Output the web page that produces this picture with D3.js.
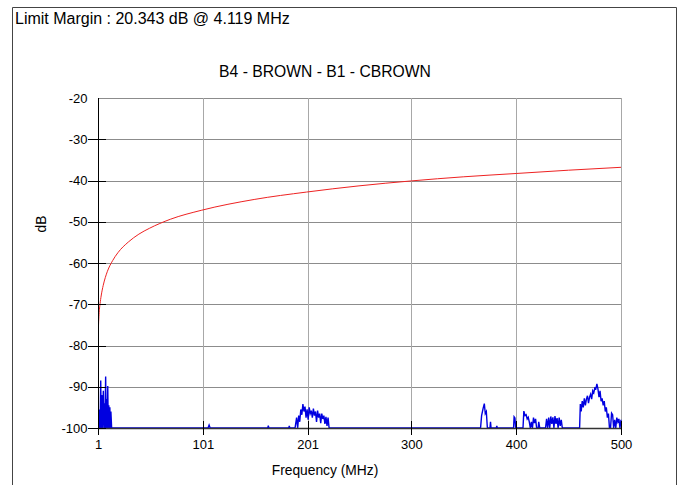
<html>
<head>
    <meta charset="utf-8">
    <title>Limit margin plot</title>
    <script src="https://d3js.org/d3.v7.min.js"></script>
    <style>
        body { margin: 0; background-color: white; }
        svg text { font-family: "Liberation Sans", Arial, sans-serif; fill: #000; }
    </style>
</head>
<body>
<div id="chart"></div>
<script>
    // chart texts
    var marginText = "Limit Margin : 20.343 dB @ 4.119 MHz";
    var chartTitle = "B4 - BROWN - B1 - CBROWN";
    var xLabel = "Frequency (MHz)";
    var yLabel = "dB";
    var xTicks = [1, 101, 201, 300, 400, 500];
    var yTicks = [-20, -30, -40, -50, -60, -70, -80, -90, -100];

    // limit line (red)
    var limitFreq = [1, 1.5, 2, 3, 4, 6, 8, 10, 15, 20, 30, 40, 50, 70, 100, 150, 200, 250, 300, 350, 400, 450, 500];
    var limitDb = [-79.5, -75, -72.5, -69.8, -68, -65.4, -63.5, -62, -59.4, -57.5, -54.9, -53, -51.6, -49.4, -47.2, -44.6, -42.8, -41.3, -40.1, -39.1, -38.3, -37.5, -36.8];

    // measured trace (blue)
    var traceFreq = [1, 2, 2.5, 3, 3.6, 4.1, 4.6, 5.1, 5.6, 6.1, 6.6, 7, 7.6, 8.3, 8.8, 9.3, 9.8, 10.3, 10.8, 11.3, 11.8, 12.3, 12.8, 13.3, 14,
        106, 107, 108, 163, 163.5, 164, 183, 183.5, 184,
        189, 190.5, 191.5, 192.5, 193.5, 194.5, 195.5, 196.5, 197.5, 198.5, 199.5, 200.5, 201.5, 202.5, 203.5, 204.5, 205.5, 206.5, 207.5, 208.5, 209.5, 210.5, 211.5, 212.5, 213.5, 214.5, 215.5, 216.5, 217.5, 218.5, 219.5, 220.5, 221.5,
        366, 367, 368.5, 369.6, 370.5, 371.5, 372.5, 375, 375.5, 376, 381, 381.5, 382,
        397.5, 398, 398.8, 399.5, 406.5, 407.3, 408.5, 409.5, 410.5, 411.5, 412.5, 413.5, 414.5, 415.5, 416.5, 417.5, 418.5, 419.5, 421, 421.5, 422.5,
        428, 429, 430, 431, 432, 433, 434, 435, 436, 437, 438, 439, 440, 441, 442, 443, 444,
        460.5, 461.2, 462, 463, 464, 465, 466, 467, 468, 469, 470, 471, 472, 473, 474, 475, 476, 477, 478, 479, 480, 481, 482, 483, 484, 485, 486, 487, 488, 489, 490, 491, 492, 493, 494, 495, 496, 497, 498, 499, 500];
    var traceDb = [-100, -100, -95.5, -100, -88.5, -100, -92, -100, -96, -91, -100, -94, -100, -87.5, -100, -93, -100, -89.8, -100, -94.5, -100, -95, -100, -96, -100,
        -100, -99.3, -100, -100, -99.4, -100, -100, -99.5, -100,
        -100, -97.5, -100, -97, -98.5, -95.5, -96.8, -94.2, -96, -94.8, -97.5, -95.5, -98, -95, -96.5, -95.8, -97.5, -95.3, -97, -96, -98.5, -95.8, -97.5, -96.5, -98.8, -96.5, -97.8, -97, -99, -97.3, -99.5, -97.5, -100,
        -100, -97, -95.2, -94.1, -96.5, -96, -100, -100, -98.5, -100, -100, -99.5, -100,
        -100, -97.3, -97.6, -100, -100, -95.9, -97, -96.8, -97.8, -97.4, -98.5, -100, -98.5, -100, -97.5, -98.8, -97.8, -100, -100, -98.5, -100,
        -100, -97.8, -100, -97.5, -100, -97.2, -99, -97.4, -100, -97.1, -99, -97.6, -100, -97.5, -99.5, -98, -100,
        -100, -94.2, -96, -93.5, -95, -92.8, -94.5, -93, -92.2, -94, -92.5, -91.8, -93, -91, -91.5, -90.3, -90.5, -89.3, -90.5, -92.5, -91, -93.5, -92.8, -94.5, -93.5, -96, -95, -97.5, -96.5, -100, -100, -96.4, -96.8, -100, -98, -100, -97.5, -98.5, -97.8, -100, -98];

    var width = 683, height = 485;
    var plot = {left: 98, right: 621, top: 98, bottom: 428};

    var svg = d3.select("#chart").append("svg")
                .attr("width", width)
                .attr("height", height);

    var x = d3.scaleLinear().domain([1, 500]).range([plot.left, plot.right]);
    var y = d3.scaleLinear().domain([-100, -20]).range([plot.bottom, plot.top]);

    // outer frame (open at the bottom)
    svg.append("path")
       .attr("d", "M12.5," + height + "V7.5H676.5V" + height)
       .attr("fill", "none")
       .attr("stroke", "#444")
       .attr("stroke-width", 1);

    svg.append("text")
       .attr("x", 15).attr("y", 24)
       .attr("font-size", 16)
       .text(marginText);

    svg.append("text")
       .attr("x", 325).attr("y", 77)
       .attr("text-anchor", "middle")
       .attr("font-size", 15.7)
       .text(chartTitle);

    // grid
    svg.append("g").selectAll("line").data(yTicks).enter().append("line")
       .attr("x1", plot.left).attr("x2", plot.right)
       .attr("y1", function(d){ return Math.round(y(d)) + 0.5; })
       .attr("y2", function(d){ return Math.round(y(d)) + 0.5; })
       .attr("stroke", "#8c8c8c");
    svg.append("g").selectAll("line").data(xTicks).enter().append("line")
       .attr("y1", plot.top).attr("y2", plot.bottom)
       .attr("x1", function(d){ return Math.round(x(d)) + 0.5; })
       .attr("x2", function(d){ return Math.round(x(d)) + 0.5; })
       .attr("stroke", "#a8a8a8");

    svg.append("clipPath").attr("id", "clip")
       .append("rect")
       .attr("x", plot.left).attr("y", plot.top - 1)
       .attr("width", plot.right - plot.left + 1)
       .attr("height", plot.bottom - plot.top + 1);

    // limit line
    var limitLine = d3.line()
                      .x(function(d, i){ return x(limitFreq[i]); })
                      .y(function(d){ return y(d); })
                      .curve(d3.curveMonotoneX);
    svg.append("path")
       .attr("d", limitLine(limitDb))
       .attr("fill", "none")
       .attr("stroke", "#ee2222")
       .attr("stroke-width", 1)
       .attr("clip-path", "url(#clip)");

    // trace
    var traceLine = d3.line()
                      .x(function(d, i){ return x(traceFreq[i]); })
                      .y(function(d){ return y(d); });
    svg.append("path")
       .attr("d", traceLine(traceDb))
       .attr("fill", "none")
       .attr("stroke", "#0000e0")
       .attr("stroke-width", 1.4)
       .attr("clip-path", "url(#clip)");

    // axes (labels only, lines drawn below)
    var yAxis = d3.axisLeft(y).tickValues(yTicks).tickSize(0).tickPadding(11)
                  .tickFormat(function(d){ return String(d); });
    var gy = svg.append("g").attr("transform", "translate(" + (plot.left + 0.5) + ",0)").call(yAxis);
    gy.select(".domain").remove();
    gy.selectAll("text").attr("font-size", 13).attr("font-family", "Liberation Sans, Arial");

    var xAxis = d3.axisBottom(x).tickValues(xTicks).tickSize(0).tickPadding(11)
                  .tickFormat(function(d){ return String(d); });
    var gx = svg.append("g").attr("transform", "translate(0," + (plot.bottom + 0.5) + ")").call(xAxis);
    gx.select(".domain").remove();
    gx.selectAll("text").attr("font-size", 13).attr("font-family", "Liberation Sans, Arial");

    // axis lines and crossing tick marks
    svg.append("line")
       .attr("x1", plot.left + 0.5).attr("x2", plot.left + 0.5)
       .attr("y1", plot.top).attr("y2", plot.bottom + 1)
       .attr("stroke", "#000");
    svg.append("line")
       .attr("x1", plot.left).attr("x2", plot.right + 1)
       .attr("y1", plot.bottom + 0.5).attr("y2", plot.bottom + 0.5)
       .attr("stroke", "#333").attr("stroke-width", 1.5);

    svg.append("g").selectAll("line").data(yTicks.slice(1)).enter().append("line")
       .attr("x1", plot.left - 10).attr("x2", plot.left + 8)
       .attr("y1", function(d){ return Math.round(y(d)) + 0.5; })
       .attr("y2", function(d){ return Math.round(y(d)) + 0.5; })
       .attr("stroke", "#000");
    svg.append("g").selectAll("line").data(xTicks).enter().append("line")
       .attr("y1", plot.bottom - 7).attr("y2", plot.bottom + 7)
       .attr("x1", function(d){ return Math.round(x(d)) + 0.5; })
       .attr("x2", function(d){ return Math.round(x(d)) + 0.5; })
       .attr("stroke", "#000");

    svg.append("text")
       .attr("x", 325).attr("y", 475)
       .attr("text-anchor", "middle")
       .attr("font-size", 13.8)
       .text(xLabel);

    svg.append("text")
       .attr("transform", "translate(46,224) rotate(-90)")
       .attr("text-anchor", "middle")
       .attr("font-size", 13.8)
       .text(yLabel);
</script>
</body>
</html>
